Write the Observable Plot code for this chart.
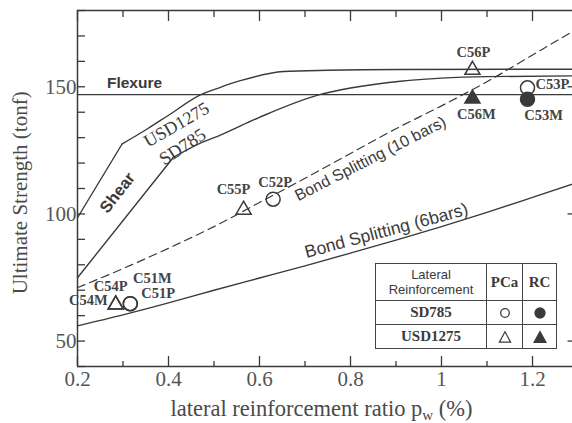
<!DOCTYPE html>
<html>
<head>
<meta charset="utf-8">
<script src="https://cdn.jsdelivr.net/npm/d3@7"></script>
<script src="https://cdn.jsdelivr.net/npm/@observablehq/plot@0.6"></script>
<style>
html,body{margin:0;padding:0;background:#fff;overflow:hidden;}
#wrap{position:relative;width:572px;height:423px;overflow:hidden;}
table.leg{position:absolute;left:375px;top:263px;border-collapse:collapse;background:#fff;}
table.leg td{border:1.5px solid #444;padding:0;text-align:center;vertical-align:middle;color:#3a3a3a;}
td.h{width:110px;height:36px;font:13px/15px "Liberation Sans",Arial,sans-serif;}
td.hs{font:bold 15px "Liberation Serif",serif;}
td.c2{width:35px;} td.c3{width:33px;}
td.s{height:23px;font:bold 15px "Liberation Serif",serif;}
td.sym svg{display:block;margin:auto;}
</style>
</head>
<body>
<div id="wrap"></div>
<script>
// ---- data ----
const flexureX = [0.2, 1.3];
const flexureY = [146.9, 146.9];

const shearUSDX = [0.2, 0.298, 0.354, 0.4, 0.47, 0.514, 0.558, 0.653, 0.75, 0.91, 1.3];
const shearUSDY = [98.5, 127.5, 133.5, 138.8, 146.8, 149.8, 152.4, 156.0, 156.5, 156.8, 156.9];

const shearSDX = [0.2, 0.41, 0.47, 0.514, 0.6, 0.734, 0.8, 0.91, 1.0, 1.1, 1.3];
const shearSDY = [74.9, 122.1, 127.8, 131.0, 138.0, 147.0, 149.5, 152.2, 153.4, 154.0, 154.3];

const bond10X = [0.2, 0.3, 0.4, 0.5, 0.6, 0.7, 0.8, 0.9, 1.0, 1.1, 1.2, 1.3];
const bond10Y = [71, 78.5, 86.5, 95, 104.5, 114, 123.8, 133.5, 142.5, 152, 162.5, 173];

const bond6X = [0.2, 0.3, 0.4, 0.5, 0.6, 0.7, 0.8, 0.9, 1.0, 1.1, 1.2, 1.3];
const bond6Y = [56, 60.3, 65, 70, 74.8, 79.6, 84.6, 89.7, 95, 100.6, 106.5, 112.5];

const specimens = ["C51P", "C51M", "C52P", "C53P", "C53M", "C54P", "C54M", "C55P", "C56P", "C56M"];
const specX = [0.316, 0.316, 0.630, 1.189, 1.189, 0.284, 0.284, 0.565, 1.068, 1.068];
const specY = [64.7, 64.7, 105.8, 149.6, 145.1, 64.3, 64.3, 101.6, 156.6, 145.3];
const specSteel = ["SD785", "SD785", "SD785", "SD785", "SD785", "USD1275", "USD1275", "USD1275", "USD1275", "USD1275"];
const specFilled = [false, false, false, false, true, false, false, false, false, true];

const xTickValues = [0.2, 0.3, 0.4, 0.5, 0.6, 0.7, 0.8, 0.9, 1.0, 1.1, 1.2, 1.3];
const xTickLabels = ["0.2", "0.4", "0.6", "0.8", "1", "1.2"];
const yTickValues = [40, 50, 60, 70, 80, 90, 100, 110, 120, 130, 140, 150, 160, 170, 180];
const yTickLabels = ["50", "100", "150"];

// ---- styling / layout ----
const xDom = [0.2, 1.3], yDom = [40, 180];
const xRange = [77, 577.5], yRange = [366, 10];
const pxPerX = (xRange[1] - xRange[0]) / (xDom[1] - xDom[0]);
const pxPerY = (yRange[0] - yRange[1]) / (yDom[1] - yDom[0]);
const INK = "#3a3a3a";
const SERIF = "Liberation Serif, Times New Roman, serif";
const SANS = "Liberation Sans, Arial, sans-serif";

const pts = (xs, ys) => xs.map((x, i) => ({x, y: ys[i]}));
const isMajorX = d => Math.abs(Math.round(d * 10) % 2) === 0;
const isMajorY = d => d % 50 === 0;

const labelPlace = {
  C56P: {dx: 1, dy: -18, anchor: "middle"},
  C56M: {dx: 4, dy: 16, anchor: "middle"},
  C53P: {dx: 8, dy: -3, anchor: "start"},
  C53M: {dx: 16, dy: 16.5, anchor: "middle"},
  C55P: {dx: -10, dy: -21, anchor: "middle"},
  C52P: {dx: 2, dy: -17, anchor: "middle"},
  C54P: {dx: -5, dy: -18, anchor: "middle"},
  C54M: {dx: -8, dy: -4, anchor: "end"},
  C51M: {dx: 22, dy: -25, anchor: "middle"},
  C51P: {dx: 28, dy: -10, anchor: "middle"}
};

const spec = specimens.map((name, i) => ({name, x: specX[i], y: specY[i], steel: specSteel[i], filled: specFilled[i]}));

const lineLabels = [
  {text: "Flexure", x: 0.3253, y: 151.6, rotate: 0, size: 15.5, family: SANS, weight: "bold"},
  {text: "Shear", x: 0.2879, y: 108.3, rotate: -52, size: 16.5, family: SANS, weight: "bold"},
  {text: "USD1275", x: 0.4176, y: 135.1, rotate: -30, size: 18, family: SERIF, weight: "normal"},
  {text: "SD785", x: 0.4308, y: 126.4, rotate: -33, size: 18.5, family: SERIF, weight: "normal"},
  {text: "Bond Splitting (10 bars)", x: 0.844, y: 121.7, rotate: -27, size: 16, family: SANS, weight: "normal"},
  {text: "Bond Splitting (6bars)", x: 0.879, y: 93.4, rotate: -15, size: 17.5, family: SANS, weight: "normal"}
];

const lineStyle = {x: "x", y: "y", stroke: INK, strokeWidth: 1.4};

const marks = [
  // frame
  Plot.ruleY([yDom[1]], {y: d => d, x1: xDom[0], x2: xDom[1], stroke: INK, strokeWidth: 1.5}),
  Plot.ruleY([yDom[0]], {y: d => d, x1: xDom[0], x2: xDom[1], stroke: INK, strokeWidth: 1.5}),
  Plot.ruleX([xDom[0]], {x: d => d, y1: yDom[0], y2: yDom[1], stroke: INK, strokeWidth: 1.5}),
  Plot.ruleX([xDom[1]], {x: d => d, y1: yDom[0], y2: yDom[1], stroke: INK, strokeWidth: 1.5}),
  // inward ticks
  Plot.ruleX(xTickValues, {x: d => d, y1: yDom[0], y2: d => yDom[0] + (isMajorX(d) ? 10 : 5) / pxPerY, stroke: INK, strokeWidth: 1.3}),
  Plot.ruleX(xTickValues, {x: d => d, y1: yDom[1], y2: d => yDom[1] - (isMajorX(d) ? 11 : 7) / pxPerY, stroke: INK, strokeWidth: 1.3}),
  Plot.ruleY(yTickValues, {y: d => d, x1: xDom[0], x2: d => xDom[0] + 8 / pxPerX, stroke: INK, strokeWidth: 1.3}),
  Plot.ruleY(yTickValues, {y: d => d, x1: xDom[1], x2: d => xDom[1] - (isMajorY(d) ? 10 : 5) / pxPerX, stroke: INK, strokeWidth: 1.3}),
  // tick labels
  Plot.text(xTickLabels, {x: d => +d, y: yDom[0], dy: 13, text: d => d, fontSize: 21, fontFamily: SERIF, fill: "#555", lineAnchor: "middle"}),
  Plot.text(yTickLabels, {x: xDom[0], y: d => +d, dx: -1, text: d => d, textAnchor: "end", fontSize: 21, fontFamily: SERIF, fill: "#555", lineAnchor: "middle"}),
  // axis titles
  Plot.text(["lateral reinforcement ratio p_w (%)"], {x: 0.2 + (321 - 77) / pxPerX, y: yDom[0], dy: 49, text: d => d, fontSize: 22.5, fontFamily: SERIF, fill: "#4a4a4a", lineAnchor: "bottom"}),
  Plot.text(["Ultimate Strength (tonf)"], {x: xDom[0], y: 108.3, dx: -57, text: d => d, rotate: -90, fontSize: 21, fontFamily: SERIF, fill: "#4a4a4a", lineAnchor: "middle"}),
  // curves
  Plot.line(pts(flexureX, flexureY), lineStyle),
  Plot.line(pts(shearUSDX, shearUSDY).slice(0, 2), lineStyle),
  Plot.line(pts(shearUSDX, shearUSDY).slice(1), {...lineStyle, curve: "monotone-x"}),
  Plot.line(pts(shearSDX, shearSDY).slice(0, 2), lineStyle),
  Plot.line(pts(shearSDX, shearSDY).slice(1), {...lineStyle, curve: "monotone-x"}),
  Plot.line(pts(bond10X, bond10Y), {...lineStyle, curve: "monotone-x", strokeDasharray: "8,5", strokeWidth: 1.2}),
  Plot.line(pts(bond6X, bond6Y), {...lineStyle, curve: "monotone-x"}),
  // specimen markers
  Plot.dot(spec.filter(d => d.steel === "SD785"), {x: "x", y: "y", r: 7, symbol: "circle", stroke: INK, strokeWidth: 1.5, fill: d => d.filled ? INK : "none"}),
  Plot.dot(spec.filter(d => d.steel === "USD1275"), {x: "x", y: "y", r: 5.6, symbol: "triangle", stroke: INK, strokeWidth: 1.5, fill: d => d.filled ? INK : "none"}),
  // specimen labels
  ...spec.map(d => Plot.text([d], {x: "x", y: "y", text: "name", dx: labelPlace[d.name].dx, dy: labelPlace[d.name].dy, textAnchor: labelPlace[d.name].anchor, fontSize: 14.5, fontWeight: "bold", fontFamily: SERIF, fill: "#444", lineAnchor: "middle"})),
  // curve labels
  ...lineLabels.map(d => Plot.text([d], {x: "x", y: "y", text: "text", rotate: d.rotate, fontSize: d.size, fontFamily: d.family, fontWeight: d.weight, fill: "#3a3a3a", lineAnchor: "middle"}))
];

const svg = Plot.plot({
  width: 572,
  height: 423,
  margin: 0,
  style: {background: "#fff", overflow: "hidden"},
  x: {domain: xDom, range: xRange, axis: null},
  y: {domain: yDom, range: yRange, axis: null},
  marks
});

// subscript w in the x-axis title
d3.select(svg).selectAll("text")
  .filter(function () { return this.textContent === "lateral reinforcement ratio p_w (%)"; })
  .each(function () {
    const t = d3.select(this);
    t.text(null);
    t.append("tspan").text("lateral reinforcement ratio p");
    t.append("tspan").attr("font-size", 15).attr("dy", 4).text("w");
    t.append("tspan").attr("dy", -4).text(" (%)");
  });

const wrap = document.getElementById("wrap");
wrap.appendChild(svg);

// legend table
const sym = (kind, filled) => {
  const s = d3.create("svg").attr("width", 14).attr("height", 14);
  if (kind === "circle") s.append("circle").attr("cx", 7).attr("cy", 7).attr("r", filled ? 5 : 4.3)
    .attr("fill", filled ? INK : "none").attr("stroke", INK).attr("stroke-width", 1.3);
  else s.append("path").attr("d", filled ? "M7,1.5L13,12.5L1,12.5Z" : "M7,1.8L12.6,12.2L1.4,12.2Z")
    .attr("fill", filled ? INK : "none").attr("stroke", INK).attr("stroke-width", 1.2);
  return s.node();
};
const table = document.createElement("table");
table.className = "leg";
table.innerHTML =
  '<tr><td class="h">Lateral<br>Reinforcement</td><td class="hs c2">PCa</td><td class="hs c3">RC</td></tr>' +
  '<tr><td class="s">SD785</td><td class="sym"></td><td class="sym"></td></tr>' +
  '<tr><td class="s">USD1275</td><td class="sym"></td><td class="sym"></td></tr>';
const cells = table.querySelectorAll("td.sym");
cells[0].appendChild(sym("circle", false));
cells[1].appendChild(sym("circle", true));
cells[2].appendChild(sym("triangle", false));
cells[3].appendChild(sym("triangle", true));
wrap.appendChild(table);
</script>
</body>
</html>
